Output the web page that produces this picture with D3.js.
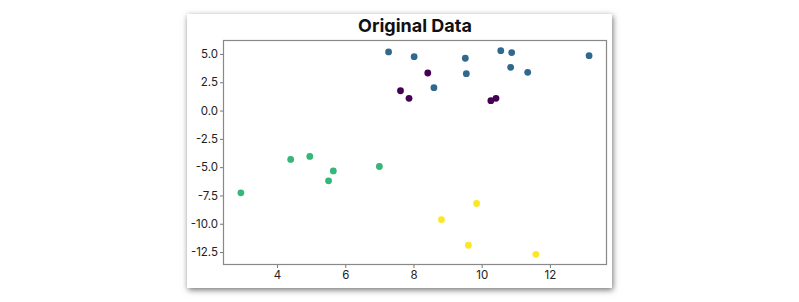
<!DOCTYPE html>
<html>
<head>
<meta charset="utf-8">
<script src="https://cdn.jsdelivr.net/npm/d3@7"></script>
<style>
  body { margin: 0; background: #fff; }
  .card {
    position: absolute;
    left: 187px;
    top: 14px;
    width: 425px;
    height: 274px;
    background: #fff;
    box-shadow: 1px 2px 6px rgba(0, 0, 0, 0.55);
  }
  .tick text { font-family: Inter, "Open Sans", sans-serif; font-size: 11.5px; fill: #222; }
  .tick line { stroke: #777; }
  .domain { display: none; }
</style>
</head>
<body>
<div class="card"></div>
<svg class="chart" width="799" height="302" style="position:absolute;left:0;top:0"></svg>
<script>
// cluster points
const xValues = [7.27, 8.02, 9.52, 9.55, 10.56, 10.88, 10.85, 11.35, 13.15, 8.60,
  8.42, 7.62, 7.87, 10.27, 10.42,
  2.94, 4.40, 4.96, 5.51, 5.65, 7.00,
  9.85, 8.82, 9.61, 11.59];
const yValues = [5.18, 4.76, 4.62, 3.26, 5.29, 5.12, 3.82, 3.38, 4.85, 2.02,
  3.32, 1.75, 1.08, 0.87, 1.08,
  -7.27, -4.32, -4.05, -6.21, -5.33, -4.94,
  -8.21, -9.63, -11.90, -12.70];
const labels = [1, 1, 1, 1, 1, 1, 1, 1, 1, 1,
  0, 0, 0, 0, 0,
  2, 2, 2, 2, 2, 2,
  3, 3, 3, 3];
const clusterColors = ['#440154', '#31688e', '#35b779', '#fde725'];
const xTicks = [4, 6, 8, 10, 12];
const yTicks = [5.0, 2.5, 0.0, -2.5, -5.0, -7.5, -10.0, -12.5];

const points = xValues.map((x, i) => ({ x: x, y: yValues[i], label: labels[i] }));

const plot = { left: 223.5, right: 606.5, top: 40.5, bottom: 264.5 };

function padded(values) {
  const [lo, hi] = d3.extent(values);
  const m = (hi - lo) * 0.05;
  return [lo - m, hi + m];
}

const xScale = d3.scaleLinear()
  .domain(padded(xValues))
  .range([plot.left, plot.right]);
const yScale = d3.scaleLinear()
  .domain(padded(yValues))
  .range([plot.bottom, plot.top]);

const svg = d3.select('.chart');

svg.append('text')
  .attr('x', (plot.left + plot.right) / 2)
  .attr('y', 32)
  .attr('text-anchor', 'middle')
  .style('font-family', 'Inter, "Open Sans", sans-serif')
  .style('font-weight', 700)
  .style('font-size', '18px')
  .style('fill', '#111')
  .text('Original Data');

svg.append('g')
  .attr('transform', `translate(0, ${plot.bottom})`)
  .call(d3.axisBottom(xScale).tickValues(xTicks).tickSize(3.5).tickPadding(3)
  .tickFormat(d3.format('d')));

svg.append('g')
  .attr('transform', `translate(${plot.left}, 0)`)
  .call(d3.axisLeft(yScale).tickValues(yTicks).tickSize(3.5).tickPadding(2)
  .tickFormat((d) => d3.format('.1f')(d).replace('−', '-')));

svg.append('rect')
  .attr('x', plot.left)
  .attr('y', plot.top)
  .attr('width', plot.right - plot.left)
  .attr('height', plot.bottom - plot.top)
  .attr('fill', 'none')
  .attr('stroke', '#888')
  .attr('stroke-width', 1.2);

svg.append('g')
  .selectAll('circle')
  .data(points)
  .join('circle')
  .attr('cx', (d) => xScale(d.x))
  .attr('cy', (d) => yScale(d.y))
  .attr('r', 3.4)
  .attr('fill', (d) => clusterColors[d.label]);
</script>
</body>
</html>
